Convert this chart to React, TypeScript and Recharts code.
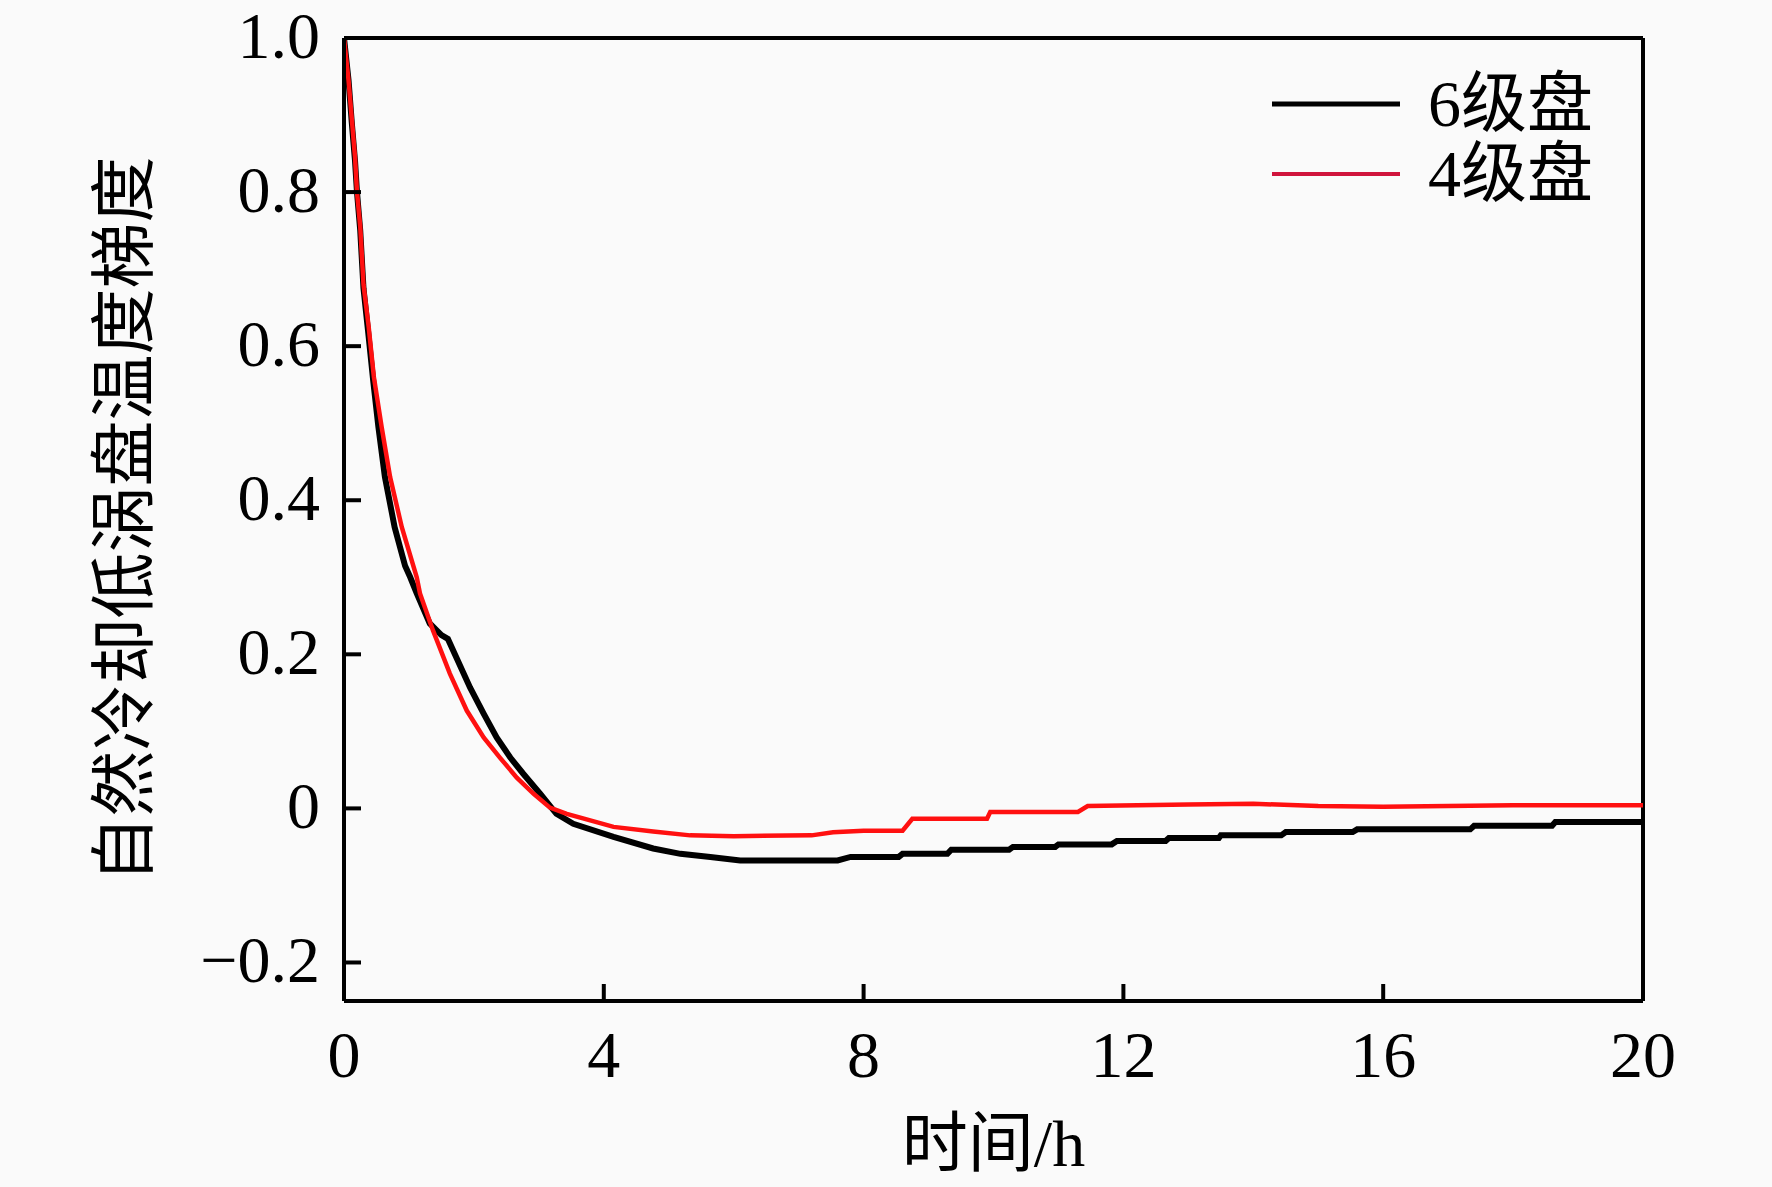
import React from "react";
import { Label, Legend, Line, LineChart, ReferenceLine, XAxis, YAxis } from "recharts";

// 6级盘 — black staircase curve
const T_6 = [
  0, 0.07, 0.12, 0.17, 0.2, 0.25, 0.3, 0.37, 0.45, 0.53, 0.63, 0.78, 0.94, 1.02, 1.12, 1.32, 1.5,
  1.6, 1.73, 1.94, 2.15, 2.35, 2.56, 2.76, 3.02, 3.27, 3.53, 4.15, 4.76, 5.18, 5.64, 6.1, 7.6,
  7.8, 8.54, 8.6, 9.29, 9.35, 10.24, 10.3, 10.95, 11.0, 11.82, 11.9, 12.65, 12.7, 13.47, 13.5,
  14.43, 14.5, 15.53, 15.6, 17.34, 17.4, 18.6, 18.65, 20,
];
const V_6 = [
  1.0, 0.945, 0.89, 0.84, 0.8, 0.75, 0.675, 0.62, 0.555, 0.495, 0.43, 0.365, 0.315, 0.3, 0.279,
  0.24, 0.225, 0.22, 0.196, 0.157, 0.123, 0.092, 0.066, 0.045, 0.019, -0.007, -0.02, -0.037,
  -0.052, -0.059, -0.063, -0.0675, -0.0675, -0.063, -0.063, -0.059, -0.059, -0.0537, -0.0537,
  -0.05, -0.05, -0.0467, -0.0467, -0.0424, -0.0424, -0.0385, -0.0385, -0.035, -0.035, -0.0307,
  -0.0307, -0.0272, -0.0272, -0.0225, -0.0225, -0.0177, -0.0177,
];

// 4级盘 — red curve
const T_4 = [
  0, 0.07, 0.12, 0.17, 0.2, 0.25, 0.3, 0.38, 0.46, 0.58, 0.71, 0.89, 1.12, 1.17, 1.37, 1.63, 1.89,
  2.15, 2.4, 2.66, 2.92, 3.17, 3.43, 3.68, 4.15, 4.76, 5.33, 6.0, 7.2, 7.53, 8.0, 8.6, 8.75, 9.9,
  9.95, 11.3, 11.45, 13.0, 14.0, 15.0, 16.0, 18.0, 20,
];
const V_4 = [
  1.0, 0.945, 0.895, 0.845, 0.8, 0.755, 0.68, 0.625, 0.56, 0.495, 0.43, 0.365, 0.3, 0.279, 0.231,
  0.175, 0.127, 0.092, 0.066, 0.04, 0.019, 0.001, -0.007, -0.013, -0.024, -0.03, -0.035, -0.036,
  -0.035, -0.031, -0.029, -0.029, -0.0134, -0.0134, -0.0047, -0.0047, 0.003, 0.005, 0.006, 0.003,
  0.002, 0.004, 0.004,
];

const SERIES_NAMES = ["6级盘", "4级盘"];
const SERIES_COLORS = ["#000000", "#ff1010"];
const LEGEND_COLORS = ["#000000", "#d0143c"];

const X_TICKS = [0, 4, 8, 12, 16, 20];
const Y_TICKS = [-0.2, 0, 0.2, 0.4, 0.6, 0.8, 1.0];
const X_DOMAIN = [0, 20];
const Y_DOMAIN = [-0.25, 1];

const X_TITLE = "时间/h";
const Y_TITLE = "自然冷却低涡盘温度梯度";

const FONT = "'Liberation Serif', 'Times New Roman', 'Noto Sans CJK SC', serif";
const FONT_SIZE = 66;

const data6 = T_6.map((t, i) => ({ t, v: V_6[i] }));
const data4 = T_4.map((t, i) => ({ t, v: V_4[i] }));

const fmtY = (v: number) => {
  if (v === 0) return "0";
  const s = Math.abs(v).toFixed(1);
  return v < 0 ? `\u2212${s}` : s;
};

function XTick({ x, y, payload }: any) {
  return (
    <g>
      <line x1={x} y1={y} x2={x} y2={y - 17} stroke="#000" strokeWidth={4} />
      <text
        x={x}
        y={y + 32}
        dy="0.66em"
        textAnchor="middle"
        fontFamily={FONT}
        fontSize={FONT_SIZE}
        fill="#000"
      >
        {payload.value}
      </text>
    </g>
  );
}

function YTick({ x, y, payload }: any) {
  return (
    <g>
      <line x1={x} y1={y} x2={x + 17} y2={y} stroke="#000" strokeWidth={4} />
      <text
        x={x - 24}
        y={y}
        dy="0.3em"
        textAnchor="end"
        fontFamily={FONT}
        fontSize={FONT_SIZE}
        fill="#000"
      >
        {fmtY(payload.value)}
      </text>
    </g>
  );
}

function YTitle({ viewBox }: any) {
  const cx = 124;
  const cy = viewBox.y + viewBox.height / 2;
  return (
    <text
      x={cx}
      y={cy}
      transform={`rotate(-90, ${cx}, ${cy})`}
      textAnchor="middle"
      dominantBaseline="central"
      fontFamily={FONT}
      fontSize={FONT_SIZE}
      fill="#000"
    >
      {Y_TITLE}
    </text>
  );
}

function XTitle({ viewBox }: any) {
  const cx = viewBox.x + viewBox.width / 2;
  return (
    <text
      x={cx}
      y={1143}
      textAnchor="middle"
      dominantBaseline="central"
      fontFamily={FONT}
      fontSize={FONT_SIZE}
      fill="#000"
    >
      {X_TITLE}
    </text>
  );
}

function LegendBox() {
  return (
    <div style={{ fontFamily: FONT, fontSize: FONT_SIZE, color: "#000" }}>
      {SERIES_NAMES.map((name, i) => (
        <div key={name} style={{ display: "flex", alignItems: "center", height: 70 }}>
          <svg width={128} height={10} style={{ marginRight: 28 }}>
            <line x1={0} y1={5} x2={128} y2={5} stroke={LEGEND_COLORS[i]} strokeWidth={i === 0 ? 5 : 4} />
          </svg>
          <span style={{ lineHeight: "70px" }}>{name}</span>
        </div>
      ))}
    </div>
  );
}

export default function App() {
  return (
    <div style={{ position: "absolute", left: 0, top: 0, width: 1772, height: 1187, background: "#fafafa" }}>
      <LineChart width={1772} height={1187} margin={{ top: 38, right: 129, left: 0, bottom: 0 }}>
        <XAxis
          dataKey="t"
          type="number"
          domain={X_DOMAIN}
          ticks={X_TICKS}
          allowDataOverflow
          height={186}
          tickSize={0}
          tickMargin={0}
          tickLine={false}
          tick={<XTick />}
          axisLine={{ stroke: "#000", strokeWidth: 4 }}
        >
          <Label content={<XTitle />} />
        </XAxis>
        <YAxis
          type="number"
          domain={Y_DOMAIN}
          ticks={Y_TICKS}
          allowDataOverflow
          width={344}
          tickSize={0}
          tickMargin={0}
          tickLine={false}
          tick={<YTick />}
          axisLine={{ stroke: "#000", strokeWidth: 4 }}
        >
          <Label content={<YTitle />} />
        </YAxis>
        {/* closing frame: top and right edges */}
        <ReferenceLine y={Y_DOMAIN[1]} stroke="#000" strokeWidth={4} ifOverflow="visible" />
        <ReferenceLine x={X_DOMAIN[1]} stroke="#000" strokeWidth={4} ifOverflow="visible" />
        <Legend
          layout="horizontal"
          verticalAlign="middle"
          align="center"
          content={<LegendBox />}
          wrapperStyle={{ position: "absolute", left: 1272, top: 69, width: 340, height: 140 }}
        />
        <Line
          data={data6}
          dataKey="v"
          name={SERIES_NAMES[0]}
          type="linear"
          stroke={SERIES_COLORS[0]}
          strokeWidth={6}
          dot={false}
          isAnimationActive={false}
        />
        <Line
          data={data4}
          dataKey="v"
          name={SERIES_NAMES[1]}
          type="linear"
          stroke={SERIES_COLORS[1]}
          strokeWidth={4.5}
          dot={false}
          isAnimationActive={false}
        />
      </LineChart>
    </div>
  );
}
